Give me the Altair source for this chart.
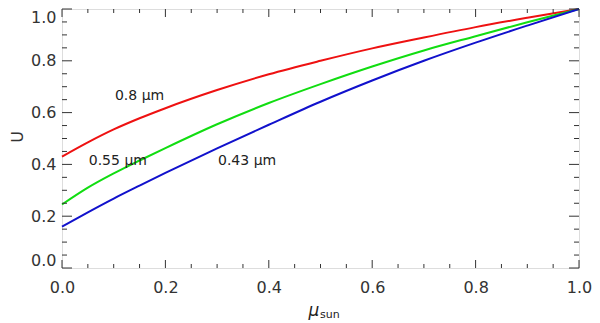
import altair as alt
import pandas as pd

# ---- data ----
mu_sun = [0.0, 0.05, 0.1, 0.15, 0.2, 0.3, 0.4, 0.5, 0.6, 0.7, 0.8, 0.9, 1.0]
u_080 = [0.43, 0.485, 0.535, 0.578, 0.617, 0.687, 0.748, 0.80, 0.848, 0.89, 0.93, 0.966, 1.0]
u_055 = [0.245, 0.31, 0.365, 0.415, 0.463, 0.555, 0.637, 0.71, 0.778, 0.84, 0.895, 0.949, 1.0]
u_043 = [0.16, 0.215, 0.268, 0.318, 0.367, 0.462, 0.553, 0.642, 0.724, 0.80, 0.87, 0.936, 1.0]

series_names = ["0.8 μm", "0.55 μm", "0.43 μm"]
series_colors = ["#ee1111", "#11dd11", "#1111cc"]

label_text = ["0.8  μm", "0.55  μm", "0.43  μm"]
label_mu = [0.15, 0.108, 0.358]
label_u = [0.665, 0.414, 0.414]

axis_values = [0.0, 0.2, 0.4, 0.6, 0.8, 1.0]
minor_values = [0.05, 0.1, 0.15, 0.25, 0.3, 0.35, 0.45, 0.5, 0.55,
                0.65, 0.7, 0.75, 0.85, 0.9, 0.95]

rows = []
for name, vals in zip(series_names, [u_080, u_055, u_043]):
    for m, u in zip(mu_sun, vals):
        rows.append({"mu": m, "U": u, "series": name})
df = pd.DataFrame(rows)

lab_df = pd.DataFrame({"mu": label_mu, "U": label_u, "text": label_text})
major_df = pd.DataFrame({"mu": axis_values, "U": axis_values})
minor_df = pd.DataFrame({"mu": minor_values, "U": minor_values})

W, H = 517, 259
PL, PT, PR, PB = 54, 1, 13, 55
FONT = "DejaVu Sans"
TXT = "#333333"

xs = alt.Scale(domain=[0, 1], nice=False, zero=False)
ys = alt.Scale(domain=[0, 1], nice=False, zero=False)

xaxis = alt.Axis(values=axis_values, format=".1f", ticks=False, domain=False,
                 grid=False, labelFont=FONT, labelFontSize=16, labelColor=TXT,
                 labelPadding=11, title=None, labelFlush=False)
yaxis = alt.Axis(values=axis_values, format=".1f", ticks=False, domain=False,
                 grid=False, labelFont=FONT, labelFontSize=16, labelColor=TXT,
                 labelPadding=6, title=None, labelFlush=True)

X = alt.X("mu:Q", scale=xs, axis=xaxis)
Y = alt.Y("U:Q", scale=ys, axis=yaxis)

lines = alt.Chart(df).mark_line(strokeWidth=2, interpolate="monotone").encode(
    x=X, y=Y,
    color=alt.Color("series:N", scale=alt.Scale(domain=series_names, range=series_colors),
                    legend=None),
    detail="series:N",
)

labels = alt.Chart(lab_df).mark_text(font=FONT, fontSize=14, color="#222222",
                                     align="center", baseline="middle").encode(
    x=X, y=Y, text="text:N")

TC = "#333333"
def xticks(d, length):
    bottom = alt.Chart(d).mark_rule(color=TC, strokeWidth=1).encode(
        x=X, y=alt.value(H), y2=alt.value(H - length))
    top = alt.Chart(d).mark_rule(color=TC, strokeWidth=1).encode(
        x=X, y=alt.value(0), y2=alt.value(length))
    return [bottom, top]

def yticks(d, length):
    left = alt.Chart(d).mark_rule(color=TC, strokeWidth=1).encode(
        y=Y, x=alt.value(0), x2=alt.value(length))
    right = alt.Chart(d).mark_rule(color=TC, strokeWidth=1).encode(
        y=Y, x=alt.value(W), x2=alt.value(W - length))
    return [left, right]

tick_layers = (xticks(major_df, 8) + xticks(minor_df, 4)
               + yticks(major_df, 10) + yticks(minor_df, 5))

one = pd.DataFrame({"k": [0]})
mu_title = alt.Chart(one).mark_text(font=FONT, fontSize=17, fontStyle="italic",
                                    color="#222222", align="center",
                                    baseline="alphabetic").encode(
    x=alt.value(252), y=alt.value(307), text=alt.value("μ"))
sun_title = alt.Chart(one).mark_text(font=FONT, fontSize=11, color="#222222",
                                     align="left", baseline="alphabetic").encode(
    x=alt.value(258), y=alt.value(309), text=alt.value("sun"))
u_title = alt.Chart(one).mark_text(font=FONT, fontSize=16, color=TXT, angle=270,
                                   align="center", baseline="middle").encode(
    x=alt.value(-44), y=alt.value(128), text=alt.value("U"))

chart = alt.layer(lines, labels, *tick_layers, mu_title, sun_title, u_title).properties(
    width=W, height=H,
    autosize=alt.AutoSizeParams(type="none"),
    padding={"left": PL, "top": PT, "right": PR, "bottom": PB},
).configure_view(stroke="#222222", strokeWidth=1).configure(background="white")

chart.save("out.html", embed_options={"renderer": "svg", "actions": False})
